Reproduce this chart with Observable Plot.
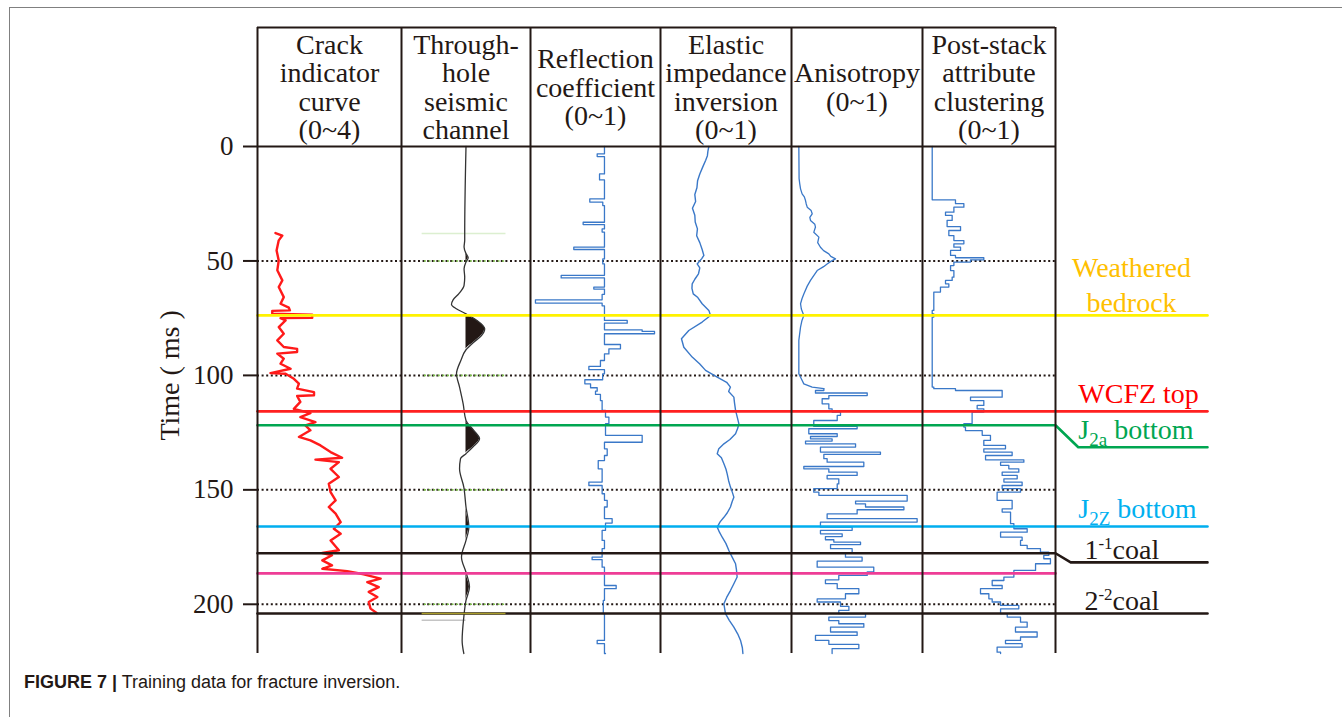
<!DOCTYPE html>
<html>
<head>
<meta charset="utf-8">
<script src="https://cdn.jsdelivr.net/npm/d3@7"></script>
<script src="https://cdn.jsdelivr.net/npm/@observablehq/plot@0.6"></script>
<style>
html,body{margin:0;padding:0;background:#fff;width:1342px;height:717px;overflow:hidden;}
#wrap{position:relative;width:1342px;height:717px;}
#border{position:absolute;left:9px;top:7px;width:1400px;height:800px;border-left:1.5px solid #808080;border-top:1.5px solid #808080;}
#chart{position:absolute;left:0;top:0;}
#caption{position:absolute;left:24px;top:672px;font-family:"Liberation Sans",Arial,sans-serif;font-size:18px;line-height:20px;color:#231815;white-space:nowrap;}
</style>
</head>
<body>
<div id="wrap">
  <div id="border"></div>
  <div id="chart"></div>
  <div id="caption"><b>FIGURE 7 |</b> Training data for fracture inversion.</div>
</div>
<script>
// ---------------- DATA ----------------
const trackTitles = [
  "Crack\nindicator\ncurve\n(0~4)",
  "Through-\nhole\nseismic\nchannel",
  "Reflection\ncoefficient\n(0~1)",
  "Elastic\nimpedance\ninversion\n(0~1)",
  "Anisotropy\n(0~1)",
  "Post-stack\nattribute\nclustering\n(0~1)"
];
const yTicks = [0, 50, 100, 150, 200];
const gridTimes = [50, 100, 150, 200];
const axisTitle = "Time ( ms )";

// crack indicator curve (0~4)
const crackT = [37.8,38.9,41.0,45.4,49.8,54.1,58.5,61.4,65.8,68.7,70.4,71.6,71.8,73.1,73.5,74.8,75.0,76.0,78.9,81.8,84.7,87.6,88.4,89.8,90.5,92.7,94.9,97.1,99.0,99.3,101.5,103.6,105.8,107.3,108.7,109.0,111.6,114.6,116.5,118.2,120.4,121.8,124.0,126.9,128.4,130.6,133.5,136.0,136.8,137.9,140.8,144.4,147.3,151.0,154.6,157.5,160.4,164.1,167.0,169.2,172.1,176.4,177.6,178.6,180.8,183.0,184.5,185.5,186.9,188.8,190.3,192.5,194.6,196.8,199.0,201.9,203.8];
const crackV = [0.50,0.69,0.59,0.53,0.59,0.55,0.69,0.59,0.73,0.64,0.87,0.90,0.41,0.41,1.52,1.52,0.64,0.78,0.59,0.73,0.55,0.73,1.10,1.10,0.55,0.73,0.64,0.92,0.36,0.78,1.01,1.15,1.10,1.57,1.57,1.10,1.19,1.01,1.47,1.19,1.61,1.33,1.47,1.15,1.47,1.75,2.03,2.35,1.61,2.26,2.03,2.26,1.98,2.03,2.17,1.98,2.17,2.31,2.12,2.31,2.03,2.26,1.80,2.07,1.80,2.07,1.80,2.49,2.95,3.42,3.05,3.37,3.09,3.33,3.09,3.14,3.31];

// through-hole seismic channel (amplitude, -1~1)
const seisT = [0,38.1,41.0,43.9,46.8,48.6,50.5,53.4,57.1,60.7,64.3,67.0,69.0,70.9,73.1,76.0,79.6,82.6,85.5,88.8,93.5,99.3,105.1,112.4,119.7,124.0,127.7,131.3,134.2,136.4,140.8,148.8,157.5,166.3,172.1,179.4,186.0,192.5,198.3,205.6,215.8,221.5];
const seisA = [0,-0.02,-0.02,-0.03,0,0.034,0,-0.03,-0.02,-0.03,-0.11,-0.20,-0.225,-0.15,0,0.17,0.29,0.24,0.12,0,-0.08,-0.147,-0.10,-0.044,0,0.12,0.21,0.106,0,-0.085,-0.10,-0.034,0,0.044,0,-0.07,0,0.054,0,-0.034,-0.06,-0.034];
const seisGuideTimes = [50, 100, 150, 200];

// reflection coefficient (0~1), value holds from each time onward
const reflT = [0,3.2,4.4,12.0,14.6,22.9,24.3,25.8,33.1,34.1,36.0,37.4,44.0,45.0,49.1,51.3,56.3,57.4,61.4,62.3,64.6,67.0,68.4,69.6,76.0,77.2,80.1,80.8,81.8,86.5,88.4,90.6,93.5,96.1,97.5,99.3,101.9,103.7,105.4,106.9,108.3,111.0,115.3,118.2,121.1,126.2,129.2,132.1,135.0,137.2,140.8,146.6,148.1,151.7,154.6,157.5,162.6,164.5,167.7,172.1,175.7,179.4,180.5,183.8,191.8,193.2,198.3,204.1,215.8,217.2,221.5];
const reflV = [0.569,0.513,0.569,0.531,0.569,0.456,0.556,0.569,0.405,0.569,0.551,0.569,0.333,0.569,0.556,0.569,0.236,0.569,0.487,0.569,0.551,0.038,0.551,0.569,0.744,0.569,0.859,0.954,0.569,0.692,0.603,0.569,0.538,0.449,0.569,0.555,0.418,0.462,0.513,0.500,0.538,0.551,0.577,0.603,0.577,0.859,0.569,0.590,0.569,0.521,0.551,0.449,0.551,0.569,0.590,0.569,0.628,0.577,0.551,0.569,0.551,0.474,0.551,0.569,0.659,0.569,0.560,0.569,0.513,0.569,0.577];

// elastic impedance inversion (0~1)
const elasT = [0,2,4,6,9,12,15,18,21,24,27,30,33,36,39,42,45,47.6,49,51.3,53,55.6,58,60,62,64.4,66,68.7,71.6,73.8,76.7,80.4,84,87.7,92,95,97.8,100.8,103,105.1,107,109.5,112,115.3,118,121.1,123,125.5,128,129.9,132,134.2,136,138.6,141,143,146,148.8,151,153.2,155,157.5,160,162,164,166.3,168.5,170.7,173.5,176.5,179.5,182.3,185,188.1,191,194,197,199.8,202,204.1,207,210,213,215.8,219,221.5];
const elasV = [0.369,0.362,0.358,0.345,0.322,0.300,0.283,0.278,0.262,0.268,0.244,0.262,0.265,0.282,0.276,0.300,0.318,0.331,0.315,0.280,0.300,0.290,0.262,0.242,0.240,0.250,0.285,0.318,0.369,0.382,0.318,0.216,0.160,0.178,0.242,0.300,0.344,0.433,0.505,0.534,0.520,0.560,0.565,0.573,0.585,0.598,0.590,0.573,0.530,0.484,0.445,0.433,0.465,0.484,0.500,0.509,0.520,0.534,0.548,0.560,0.548,0.534,0.510,0.484,0.455,0.433,0.450,0.471,0.500,0.522,0.548,0.573,0.580,0.585,0.560,0.534,0.505,0.484,0.490,0.496,0.525,0.560,0.590,0.611,0.625,0.629];

// anisotropy (0~1): smooth upper part, blocky lower part
const anisoSmoothT = [0,14,16.3,18.5,20.7,22,23.6,25,26.5,28,29.4,31,32.3,34,35.2,37.5,39.6,42,44.0,45.5,46.9,48,49.1,50.2,51.3,52.5,54.2,56,58.5,61,64.4,66.5,68.7,71,73.8,76,78.9,82,84.7,92,99.3,101.5,103.7,105.1,105.8];
const anisoSmoothV = [0.056,0.058,0.063,0.069,0.081,0.098,0.107,0.112,0.120,0.150,0.158,0.140,0.145,0.178,0.183,0.170,0.209,0.200,0.221,0.245,0.285,0.300,0.336,0.300,0.272,0.245,0.196,0.175,0.145,0.120,0.094,0.080,0.069,0.075,0.094,0.080,0.069,0.062,0.056,0.056,0.056,0.075,0.094,0.158,0.247];
const anisoStepT = [105.8,106.6,107.7,108.8,110.2,112.4,114.6,116.0,117.5,119.7,122.3,123.3,125.5,126.7,127.7,128.7,129.9,131.3,133.5,134.5,136.4,137.9,139.8,140.8,142.3,143.7,145.2,147.4,149.5,151.0,152.4,154.9,156.1,157.5,158.7,160.5,162.6,164.1,166.3,167.7,169.2,170.4,171.8,172.8,173.9,175.7,177.6,179.4,181.1,183.8,185.9,187.4,189.3,191.0,193.2,195.4,197.6,199.0,200.9,202.7,204.1,205.6,207.1,208.5,210.0,212.1,213.6,215.8,217.5,219.4,221.5];
const anisoStepV = [0.247,0.183,0.578,0.285,0.234,0.285,0.310,0.374,0.349,0.170,0.501,0.132,0.349,0.145,0.310,0.107,0.489,0.221,0.679,0.247,0.272,0.552,0.094,0.285,0.501,0.272,0.361,0.349,0.170,0.209,0.883,0.489,0.565,0.858,0.501,0.272,0.959,0.221,0.463,0.221,0.387,0.259,0.323,0.527,0.298,0.463,0.412,0.539,0.196,0.628,0.578,0.361,0.259,0.349,0.514,0.412,0.196,0.374,0.438,0.361,0.565,0.285,0.361,0.552,0.298,0.501,0.183,0.285,0.514,0.310,0.310];

// post-stack attribute clustering (0~1)
const postT = [0,23.3,25.0,26.5,28.7,30.1,32.3,35.0,36.7,38.9,41.1,42.5,44.0,45.4,47.6,48.6,49.5,50.5,52.0,54.2,57.1,58.5,60.0,61.4,63.6,71.6,73.1,74.5,105.1,105.8,106.6,109.5,111.0,113.1,114.6,116.0,121.1,122.6,124.1,126.2,128.4,130.6,132.1,133.5,135.0,136.9,137.9,139.3,140.8,142.3,143.7,145.2,146.6,148.1,149.5,151.0,154.6,158.3,159.7,164.8,167.0,168.5,170.7,172.1,174.3,175.7,177.2,178.6,180.1,182.3,185.2,188.1,189.6,191.8,193.2,195.4,197.6,199.0,200.5,202.0,204.1,205.6,207.8,210.0,212.1,214.3,215.8,217.2,218.7,220.9,221.5];
const postV = [0.073,0.248,0.311,0.236,0.173,0.223,0.185,0.286,0.198,0.236,0.311,0.236,0.286,0.211,0.248,0.461,0.361,0.236,0.211,0.236,0.223,0.173,0.198,0.135,0.085,0.073,0.085,0.073,0.085,0.248,0.599,0.361,0.461,0.411,0.461,0.373,0.311,0.323,0.449,0.511,0.461,0.624,0.461,0.674,0.474,0.762,0.587,0.649,0.724,0.599,0.712,0.612,0.749,0.599,0.737,0.561,0.674,0.599,0.662,0.687,0.787,0.587,0.749,0.737,0.787,0.887,0.950,0.912,0.962,0.850,0.687,0.612,0.524,0.599,0.436,0.499,0.524,0.587,0.724,0.587,0.637,0.737,0.787,0.699,0.862,0.737,0.624,0.749,0.561,0.587,0.587];

// horizons
const horizonNames  = ["Weathered\nbedrock", "WCFZ top", "J2a bottom", "J2Z bottom", "1-1coal", "pink marker", "2-2coal"];
const horizonTimes  = [73.8, 115.7, 121.8, 166.0, 177.7, 186.5, 204.0];
const horizonLabelTimes = [73.8, 115.7, 131.4, 166.0, 181.7, null, 204.0];
const horizonColors = ["#fff200", "#ff2020", "#00a651", "#00aeef", "#231815", "#ee3d96", "#231815"];
const labelColors   = ["#ffc000", "#ff0000", "#00a651", "#00b0f0", "#231815", null, "#231815"];

// ---------------- BUILD ----------------
const ink = "#231815";
const blue = "#3a78c8";
const rows = (T, V, k = "v") => T.map((t, i) => ({t, [k]: V[i]}));
const crack = rows(crackT, crackV);
const seis = rows(seisT, seisA, "a");
const refl = rows(reflT, reflV);
const elas = rows(elasT, elasV);
const anisoSmooth = rows(anisoSmoothT, anisoSmoothV);
const anisoStep = rows(anisoStepT, anisoStepV);
const post = rows(postT, postV);

// horizon polylines (bend into the label column)
const bendX = {2: 6.15, 4: 6.1};
const horizonPts = [];
horizonNames.forEach((name, i) => {
  const t0 = horizonTimes[i], t1 = horizonLabelTimes[i], c = horizonColors[i];
  horizonPts.push({name, x: 0, t: t0, c}, {name, x: 6, t: t0, c});
  if (t1 !== null) {
    if (t1 !== t0) horizonPts.push({name, x: bendX[i], t: t1, c});
    horizonPts.push({name, x: 7, t: t1, c});
  }
});
const labels = horizonNames.map((name, i) => ({name, t: horizonLabelTimes[i], c: labelColors[i]}));
const subLabels = labels.filter(d => ["WCFZ top", "J2a bottom", "J2Z bottom"].includes(d.name));
const coalLabels = labels.filter(d => d.name.includes("coal"));
const topLabel = labels.filter(d => d.name.startsWith("Weathered"));

const serif = "Liberation Serif, Times New Roman, serif";

const chart = Plot.plot({
  width: 1342,
  height: 665,
  marginTop: 146,
  marginBottom: 12,
  marginLeft: 257,
  marginRight: 135,
  x: {type: "linear", domain: [0, 1, 2, 3, 4, 5, 6, 7], range: [257, 401, 530, 660, 791, 922, 1055, 1207], axis: null},
  y: {domain: [0, 221.5], reverse: true, axis: null},
  style: {fontFamily: serif, background: "transparent", overflow: "visible", color: ink},
  marks: [
    // dotted time lines
    Plot.ruleY(gridTimes, {x1: 0, x2: 6, stroke: ink, strokeWidth: 2, strokeDasharray: "2,2.6"}),
    // seismic guide lines
    Plot.ruleY(seisGuideTimes, {x1: 1.16, x2: 1.81, stroke: "#7cc04a", strokeWidth: 1.6, strokeDasharray: "2,2.6", strokeDashoffset: 2.3}),
    Plot.ruleY([38], {x1: 1.16, x2: 1.81, stroke: "#dcefd0", strokeWidth: 1.5}),
    Plot.ruleY([207], {x1: 1.16, x2: 1.5, stroke: "#c4c4c4", strokeWidth: 1.5}),
    // curves
    Plot.line(crack, {x: d => d.v / 4, y: "t", stroke: "#ff1a1a", strokeWidth: 2.4}),
    Plot.areaX(seis, {y: "t", x1: () => 1.5, x2: d => 1.5 + Math.max(0, d.a) / 2, fill: ink, curve: "monotone-y"}),
    Plot.line(seis, {x: d => 1.5 + d.a / 2, y: "t", stroke: "#333", strokeWidth: 1.3, curve: "monotone-y"}),
    Plot.line(refl, {x: d => 2 + d.v, y: "t", stroke: blue, strokeWidth: 1.3, curve: "step-before"}),
    Plot.line(elas, {x: d => 3 + d.v, y: "t", stroke: blue, strokeWidth: 1.4}),
    Plot.line(anisoSmooth, {x: d => 4 + d.v, y: "t", stroke: blue, strokeWidth: 1.3}),
    Plot.line(anisoStep, {x: d => 4 + d.v, y: "t", stroke: blue, strokeWidth: 1.3, curve: "step-before"}),
    Plot.line(post, {x: d => 5 + d.v, y: "t", stroke: blue, strokeWidth: 1.3, curve: "step-before"}),
    // horizons
    Plot.line(horizonPts, {x: "x", y: "t", z: "name", stroke: "c", strokeWidth: 2.6}),
    Plot.ruleY([204], {x1: 1.16, x2: 1.81, stroke: "#a89c2a", strokeWidth: 1.6}),
    // track frame
    Plot.ruleX([0, 1, 2, 3, 4, 5, 6], {stroke: ink, strokeWidth: 2, insetTop: -119}),
    Plot.ruleY([0], {x1: 0, x2: 6, stroke: ink, strokeWidth: 2}),
    Plot.ruleY([0], {x1: 0, x2: 6, stroke: ink, strokeWidth: 2, dy: -119}),
    // axis
    Plot.axisY({ticks: yTicks, tickSize: 14, tickPadding: 10, fontSize: 27, fontFamily: serif, label: null, strokeWidth: 2, stroke: ink, fill: ink}),
    Plot.text([axisTitle], {frameAnchor: "left", y: () => d3.mean(yTicks), dx: -87, rotate: -90, textAnchor: "middle", lineAnchor: "middle", fontSize: 28, fontFamily: serif, fill: ink}),
    // track headers
    Plot.text(trackTitles, {x: (d, i) => i + 0.5, frameAnchor: "top", dy: -59, lineAnchor: "middle", lineHeight: 1.02, fontSize: 28, fontFamily: serif, fill: ink}),
    // horizon labels
    Plot.text(topLabel, {x: () => 6.5, y: "t", text: "name", fill: "c", textAnchor: "middle", lineAnchor: "bottom", lineHeight: 1.25, dy: -3, fontSize: 28, fontFamily: serif}),
    Plot.text(subLabels, {x: () => 6.15, y: "t", text: "name", fill: "c", textAnchor: "start", lineAnchor: "bottom", dy: -8, fontSize: 28, fontFamily: serif}),
    Plot.text(coalLabels, {x: () => 6.19, y: "t", text: "name", fill: "c", textAnchor: "start", lineAnchor: "bottom", dy: -3, fontSize: 28, fontFamily: serif})
  ]
});
document.getElementById("chart").append(chart);

// subscripts / superscripts in horizon labels
const rich = {
  "J2a bottom": [["J", 0], ["2a", 1], [" bottom", 0]],
  "J2Z bottom": [["J", 0], ["2Z", 1], [" bottom", 0]],
  "1-1coal": [["1", 0], ["-1", -1], ["coal", 0]],
  "2-2coal": [["2", 0], ["-2", -1], ["coal", 0]]
};
d3.select(chart).selectAll("text").each(function() {
  const parts = rich[this.textContent];
  if (!parts) return;
  const sel = d3.select(this);
  sel.text(null);
  let shift = 0;
  for (const [str, kind] of parts) {
    const target = kind === 1 ? 7 : kind === -1 ? -10 : 0;
    const ts = sel.append("tspan").text(str).attr("dy", target - shift);
    if (kind) ts.attr("font-size", kind === 1 ? 19 : 17);
    shift = target;
  }
});
</script>
</body>
</html>
